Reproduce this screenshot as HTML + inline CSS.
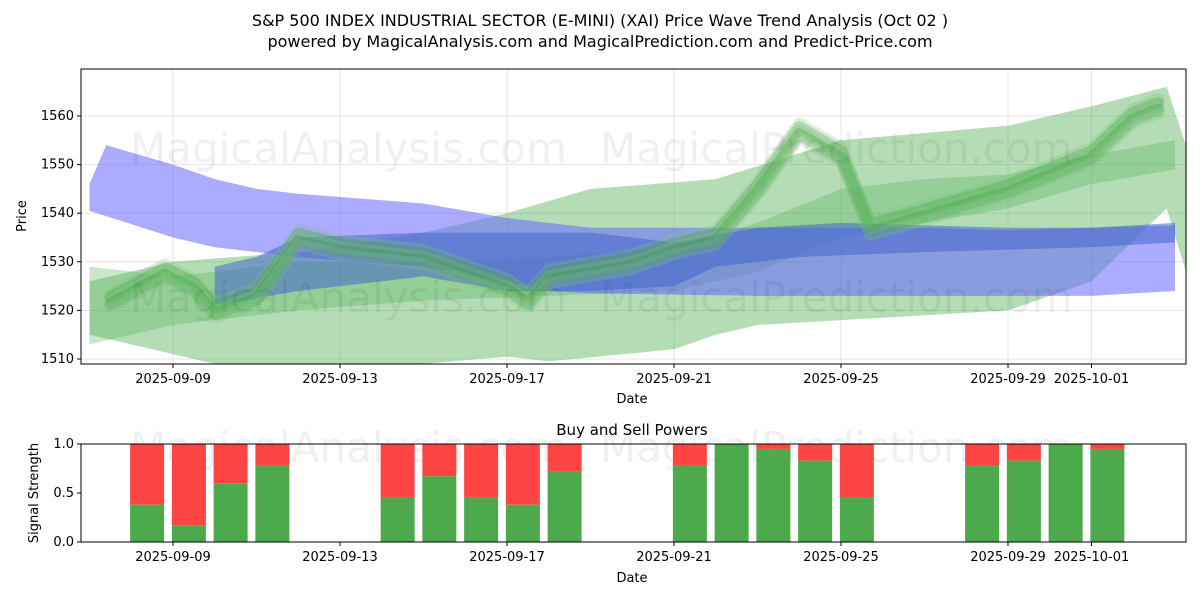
<!DOCTYPE html>
<html><head><meta charset="utf-8"><style>
body{margin:0;background:#fff;font-family:"Liberation Sans","DejaVu Sans",sans-serif}
svg text{font-family:"DejaVu Sans","Liberation Sans",sans-serif;fill:#000}
</style></head><body>
<svg id="c" width="1200" height="600" xmlns="http://www.w3.org/2000/svg"></svg>
<script>
// ---- data ----
const tickDates=["2025-09-09","2025-09-13","2025-09-17","2025-09-21","2025-09-25","2025-09-29","2025-10-01"];
const tickDays=[0,4,8,12,16,20,22];
const priceTicks=[1510,1520,1530,1540,1550,1560];
const blueATop=[[-2,1546],[-1.6,1554],[0,1550],[1,1547],[2,1545],[3,1544],[6,1542],[8,1539],[10,1537],[14,1537],[18,1537],[20,1536.5],[22,1537],[24,1537.5]];
const blueABot=[[-2,1540.5],[0,1535],[1,1533],[3,1531],[6,1529],[8,1526],[9,1524],[10,1523.5],[14,1523],[18,1523],[22,1523],[24,1524]];
const blueBTop=[[1,1529],[2,1531],[3,1535],[6,1536],[10,1536],[12,1534],[14,1537],[16,1538],[20,1537],[22,1537],[24,1538]];
const blueBBot=[[1,1521],[3,1524],[6,1527],[8,1524],[10,1524],[12,1525],[13,1529],[15,1531],[18,1532],[22,1533],[24,1534]];
const greenWideTop=[[-2,1526],[0,1530],[3,1532],[6,1536],[8,1540],[10,1545],[13,1547],[16,1555],[20,1558],[22,1562],[23.8,1566],[24.3,1553]];
const greenWideBot=[[-2,1515],[0,1511],[2,1507],[6,1509],[8,1510.5],[9,1509.5],[12,1512],[13,1515],[14,1517],[16,1518],[20,1520],[22,1526],[23.8,1541],[24.3,1527]];
const greenBTop=[[-2,1529],[0,1527],[3,1530],[6,1530],[9,1531],[12,1533],[14,1538],[16,1545],[18,1547],[20,1548],[22,1552],[24,1555]];
const greenBBot=[[-2,1513],[0,1517],[3,1520],[6,1522],[9,1523],[12,1524],[14,1528],[16,1535],[18,1538],[20,1541],[22,1546],[24,1549]];
const waveDays=[-1.5,-0.2,0.5,1,2,3,4,6,7,8,8.5,9,11,12,13,14,15,16,16.7,18,20,22,23,23.6];
const waveVals=[1522,1528,1525,1520,1523,1535,1533,1531,1528,1525,1522,1527,1530,1533,1535,1545,1557,1552,1537,1540,1545,1552,1560,1562];
const barDays=[-0.62,0.38,1.38,2.38,5.38,6.38,7.38,8.38,9.38,12.38,13.38,14.38,15.38,16.38,19.38,20.38,21.38,22.38];
const buyVals=[0.38,0.17,0.6,0.78,0.45,0.67,0.45,0.38,0.72,0.78,1.0,0.95,0.83,0.45,0.78,0.83,1.0,0.95];
const strengthTicks=[0,0.5,1.0];
// ---- scales ----
const X=d=>173+d*41.75;
const Y=v=>359-(v-1510)*4.86;
const Y2=v=>542-v*98;
const svg=document.getElementById('c');
const NS="http://www.w3.org/2000/svg";
function mk(t,a,p){const e=document.createElementNS(NS,t);for(const k in a)e.setAttribute(k,a[k]);(p||svg).appendChild(e);return e;}
const defs=mk('defs',{});
const cp=mk('clipPath',{id:'cl'},defs);mk('rect',{x:81,y:69,width:1105,height:295},cp);
const g=mk('g',{'clip-path':'url(#cl)'});
tickDays.forEach(d=>{mk('line',{x1:X(d),x2:X(d),y1:69,y2:364,stroke:'#ddd','stroke-width':0.8},g);});
priceTicks.forEach(v=>{mk('line',{x1:81,x2:1186,y1:Y(v),y2:Y(v),stroke:'#ddd','stroke-width':0.8},g);});
function bandG(top,bot,fill,op,name){
 const pts=top.map(p=>X(p[0])+','+Y(p[1])).concat(bot.slice().reverse().map(p=>X(p[0])+','+Y(p[1])));
 const e=mk('polygon',{points:pts.join(' '),fill:fill,'fill-opacity':op},g);
 
 
}
bandG(greenWideTop,greenWideBot,'#4caf50',0.42,'green-wide-band');
bandG(greenBTop,greenBBot,'#4caf50',0.3,'green-band-b');
bandG(blueATop,blueABot,'#6666ff',0.55,'blue-band-a');
bandG(blueBTop,blueBBot,'#4466cc',0.55,'blue-band-b');
const offs=[-7,-3.5,0,3.5,7];
offs.forEach((o,i)=>{
 const d=waveDays.map((dd,j)=>(j?'L':'M')+X(dd)+','+(Y(waveVals[j])+o)).join(' ');
 const e=mk('path',{d:d,fill:'none',stroke:i%2?'#3a9a3a':'#7fc77f','stroke-opacity':0.28,'stroke-width':12,'stroke-linejoin':'round','stroke-linecap':'round'},g);
 
 
});
[[130,163,'MagicalAnalysis.com'],[600,163,'MagicalPrediction.com'],[130,312,'MagicalAnalysis.com'],[600,312,'MagicalPrediction.com']].forEach(w=>{
 const t=mk('text',{x:w[0],y:w[1],'font-size':42,style:'fill:#000;fill-opacity:0.06'});t.textContent=w[2];
 });
mk('rect',{x:81,y:69,width:1105,height:295,fill:'none',stroke:'#000','stroke-width':1});
priceTicks.forEach(v=>{mk('line',{x1:77,x2:81,y1:Y(v),y2:Y(v),stroke:'#000'});const t=mk('text',{x:74,y:Y(v)+4,'font-size':13,'text-anchor':'end'});t.textContent=v;
 });
tickDays.forEach((d,i)=>{mk('line',{x1:X(d),x2:X(d),y1:364,y2:368,stroke:'#000'});const t=mk('text',{x:X(d),y:383,'font-size':13,'text-anchor':'middle'});t.textContent=tickDates[i];
 });
let t;
t=mk('text',{x:600,y:26,'font-size':16,'text-anchor':'middle'});t.textContent='S&P 500 INDEX INDUSTRIAL SECTOR (E-MINI) (XAI) Price Wave Trend Analysis (Oct 02 )';
t=mk('text',{x:600,y:47,'font-size':16,'text-anchor':'middle'});t.textContent='powered by MagicalAnalysis.com and MagicalPrediction.com and Predict-Price.com';
t=mk('text',{x:632,y:403,'font-size':13,'text-anchor':'middle'});t.textContent='Date';
t=mk('text',{x:26,y:216,'font-size':13,'text-anchor':'middle',transform:'rotate(-90 26 216)'});t.textContent='Price';
[[130,462,'MagicalAnalysis.com'],[600,462,'MagicalPrediction.com']].forEach(w=>{
 const tt=mk('text',{x:w[0],y:w[1],'font-size':42,style:'fill:#000;fill-opacity:0.06'});tt.textContent=w[2];
 });
barDays.forEach((d,i)=>{
 const x=X(d)-17;
 const r=mk('rect',{x:x,y:Y2(1),width:34,height:Y2(buyVals[i])-Y2(1),fill:'#ff4444'});
 
 const b=mk('rect',{x:x,y:Y2(buyVals[i]),width:34,height:Y2(0)-Y2(buyVals[i]),fill:'#4caa4c'});
 
});
mk('rect',{x:81,y:444,width:1105,height:98,fill:'none',stroke:'#000','stroke-width':1});
strengthTicks.forEach(v=>{mk('line',{x1:77,x2:81,y1:Y2(v),y2:Y2(v),stroke:'#000'});const tt=mk('text',{x:74,y:Y2(v)+4,'font-size':13,'text-anchor':'end'});tt.textContent=v.toFixed(1);
 });
tickDays.forEach((d,i)=>{mk('line',{x1:X(d),x2:X(d),y1:542,y2:546,stroke:'#000'});const tt=mk('text',{x:X(d),y:561,'font-size':13,'text-anchor':'middle'});tt.textContent=tickDates[i];
 });
t=mk('text',{x:632,y:435,'font-size':15,'text-anchor':'middle'});t.textContent='Buy and Sell Powers';
t=mk('text',{x:632,y:582,'font-size':13,'text-anchor':'middle'});t.textContent='Date';
t=mk('text',{x:38,y:493,'font-size':13,'text-anchor':'middle',transform:'rotate(-90 38 493)'});t.textContent='Signal Strength';
</script>
</body></html>
